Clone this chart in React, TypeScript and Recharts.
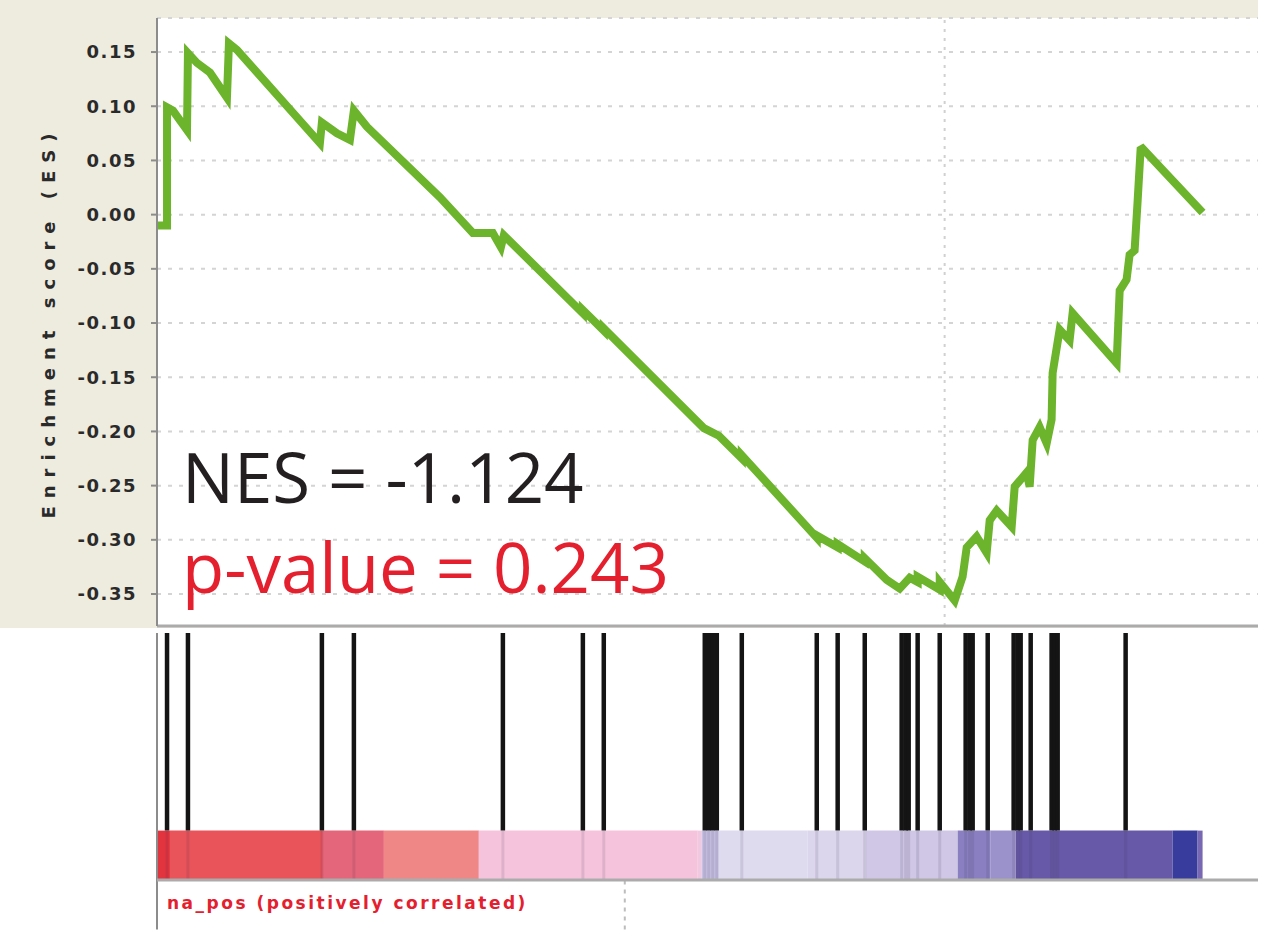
import React from 'react';
import {
  ComposedChart,
  Line,
  XAxis,
  YAxis,
  CartesianGrid,
  ReferenceLine,
  ReferenceArea,
} from 'recharts';

// ---- data (gene-list rank 0..1000, running enrichment score) ----
const RANK_DOMAIN_MAX = 1053;
const esRanks = [
  0, 9.6, 9.6, 15.3, 28.7, 29.6, 38.2, 50.7, 66.9, 68.8, 76.5, 155.8, 157.7, 172.1, 184.5, 188.3,
  200.8, 270.6, 302.1, 321.2, 328.9, 331.7, 407.3, 407.3, 427.3, 427.3, 523, 537.3, 559.3, 559.3,
  631, 631, 651, 651, 676.9, 676.9, 697.9, 710.3, 719.9, 727.5, 727.5, 748.6, 748.6, 762.9, 770.5,
  774.4, 783.9, 793.5, 796.4, 803.1, 817.4, 820.3, 831.7, 834.6, 837.5, 844.2, 850.9, 855.6, 856.6,
  863.3, 872.8, 875.7, 917.8, 920.7, 927.3, 930.2, 935, 937.9, 940.7, 942.6, 1000,
];
const esValues = [
  -0.010, -0.010, 0.099, 0.096, 0.078, 0.149, 0.140, 0.131, 0.108, 0.158, 0.152, 0.066, 0.085, 0.075,
  0.069, 0.096, 0.081, 0.016, -0.017, -0.017, -0.030, -0.019, -0.091, -0.088, -0.107, -0.105, -0.197,
  -0.204, -0.225, -0.222, -0.298, -0.296, -0.307, -0.304, -0.320, -0.317, -0.337, -0.345, -0.335,
  -0.339, -0.334, -0.346, -0.339, -0.356, -0.334, -0.307, -0.297, -0.312, -0.282, -0.273, -0.288,
  -0.251, -0.238, -0.251, -0.208, -0.196, -0.211, -0.189, -0.146, -0.106, -0.116, -0.091, -0.137,
  -0.070, -0.060, -0.037, -0.033, 0.013, 0.060, 0.061, 0.002,
];
const yTicks = [0.15, 0.1, 0.05, 0, -0.05, -0.1, -0.15, -0.2, -0.25, -0.3, -0.35];
const hitRanks = [
  9.6, 29.6, 157.7, 188.3, 330.8, 407.3, 427.3, 523.9, 527.7, 531.5, 535.4, 559.3, 631, 651, 676.9,
  712.2, 716, 718.9, 727.5, 748.6, 773.4, 777.2, 780.1, 794.5, 819.3, 823.1, 826, 835.6, 855.6,
  858.5, 861.4, 926.4,
];
const barStarts = [0, 12.4, 158.7, 217, 307.8, 517.2, 521, 537.3, 622.4, 677.8, 765.8, 797.3, 821.2, 971.3, 995.2];
const barEnds = [12.4, 158.7, 217, 307.8, 517.2, 521, 537.3, 622.4, 677.8, 765.8, 797.3, 821.2, 971.3, 995.2, 1000];
const barColors = [
  '#e2343f', '#e9535a', '#e4667a', '#ef8787', '#f5c4dc', '#f0c8e0', '#c6c1e3', '#dedbef', '#dbd6ec',
  '#cfc7e5', '#8a80c1', '#9b92cb', '#6759a7', '#383c9c', '#7868b3',
];
const peakRank = 753.3;
const zeroCrossRank = 447.4;
const nesText = 'NES = -1.124';
const pText = 'p-value = 0.243';
const yTitle = 'Enrichment score (ES)';
const bottomLabel = 'na_pos (positively correlated)';

const esData = esRanks.map((r, i) => ({ rank: r, es: esValues[i] }));
const hitData = hitRanks.map((r) => ({ rank: r }));

const BEIGE = '#eeebdf';
const AXIS_GREY = '#8c8c8c';

export default function App() {
  return (
    <div style={{ position: 'absolute', left: 0, top: 0, width: 1270, height: 947, background: '#fff', overflow: 'hidden' }}>
      <div style={{ position: 'absolute', left: 0, top: 0, width: 1258, height: 628, background: BEIGE }}>
        <ComposedChart width={1258} height={628} data={esData} margin={{ top: 18, right: 0, bottom: 0, left: 0 }}>
          <CartesianGrid
            vertical={false}
            fill="#ffffff"
            fillOpacity={1}
            stroke="#d4d4d4"
            strokeWidth={2}
            strokeDasharray="4 7"
          />
          <XAxis
            type="number"
            dataKey="rank"
            domain={[0, RANK_DOMAIN_MAX]}
            allowDataOverflow
            height={2}
            tick={false}
            tickLine={false}
            axisLine={{ stroke: '#ababab', strokeWidth: 3 }}
          />
          <YAxis
            type="number"
            domain={[-0.3795, 0.1814]}
            allowDataOverflow
            ticks={yTicks}
            interval={0}
            width={157}
            tickSize={6}
            tickMargin={14}
            tickFormatter={(v: number) => v.toFixed(2)}
            tick={{ fontSize: 18, fontFamily: 'DejaVu Sans', fontWeight: 'bold', fill: '#2a2a2a', letterSpacing: 1.5 }}
            tickLine={{ stroke: AXIS_GREY, strokeWidth: 2 }}
            axisLine={{ stroke: AXIS_GREY, strokeWidth: 2 }}
          />
          <ReferenceLine x={peakRank} stroke="#d0d0d0" strokeWidth={2} strokeDasharray="3 6" />
          <Line
            type="linear"
            dataKey="es"
            stroke="#6cb42b"
            strokeWidth={8}
            dot={false}
            activeDot={false}
            isAnimationActive={false}
          />
        </ComposedChart>
      </div>

      <div style={{ position: 'absolute', left: 0, top: 628, width: 1258, height: 319 }}>
        <ComposedChart width={1258} height={319} data={hitData} margin={{ top: 5, right: 0, bottom: 0, left: 157 }}>
          <XAxis
            type="number"
            dataKey="rank"
            domain={[0, RANK_DOMAIN_MAX]}
            allowDataOverflow
            height={67}
            tick={false}
            tickLine={false}
            axisLine={{ stroke: '#ababab', strokeWidth: 3 }}
          />
          <YAxis type="number" domain={[0, 100]} allowDataOverflow hide />
          {barStarts.map((s, i) => (
            <ReferenceArea
              key={'b' + i}
              x1={s}
              x2={barEnds[i]}
              y1={0}
              y2={20}
              fill={barColors[i]}
              fillOpacity={1}
              stroke="none"
              ifOverflow="visible"
            />
          ))}
          {hitRanks.map((h, i) => (
            <ReferenceLine
              key={'f' + i}
              segment={[{ x: h, y: 0 }, { x: h, y: 20 }]}
              stroke="#3a2a50"
              strokeOpacity={0.12}
              strokeWidth={3}
            />
          ))}
          {hitRanks.map((h, i) => (
            <ReferenceLine
              key={'h' + i}
              segment={[{ x: h, y: 20 }, { x: h, y: 100 }]}
              stroke="#141414"
              strokeWidth={4.5}
            />
          ))}
          <ReferenceLine
            segment={[{ x: 0, y: -20 }, { x: 0, y: 100 }]}
            stroke={AXIS_GREY}
            strokeWidth={2}
            ifOverflow="visible"
          />
          <ReferenceLine
            segment={[{ x: zeroCrossRank, y: -20 }, { x: zeroCrossRank, y: 0 }]}
            stroke="#bdbdbd"
            strokeWidth={2}
            strokeDasharray="4 5"
            ifOverflow="visible"
          />
        </ComposedChart>
      </div>

      <svg
        width={1270}
        height={947}
        style={{ position: 'absolute', left: 0, top: 0, pointerEvents: 'none' }}
      >
        <text
          x={48}
          y={322}
          transform="rotate(-90 48 322)"
          textAnchor="middle"
          dominantBaseline="central"
          fontFamily="DejaVu Sans"
          fontWeight="bold"
          fontSize={18}
          letterSpacing={8}
          fill="#2a2a2a"
        >
          {yTitle}
        </text>
        <text x={182} y={503} fontFamily="Open Sans" fontSize={69} fill="#231f20">
          {nesText}
        </text>
        <text x={182} y={593} fontFamily="Open Sans" fontSize={69} fill="#e5202e">
          {pText}
        </text>
        <text
          x={167}
          y={909}
          fontFamily="DejaVu Sans"
          fontWeight="bold"
          fontSize={17}
          letterSpacing={2.5}
          fill="#e5202e"
        >
          {bottomLabel}
        </text>
      </svg>
    </div>
  );
}
